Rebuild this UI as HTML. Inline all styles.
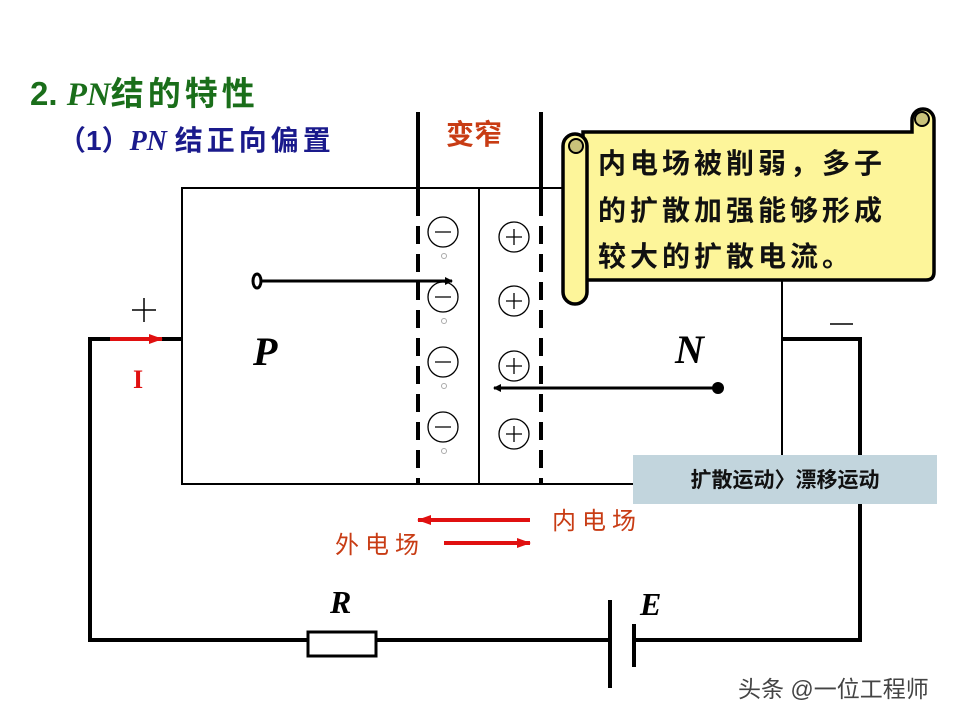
<!DOCTYPE html>
<html><head><meta charset="utf-8"><style>
body{margin:0;background:#fff;width:960px;height:720px;overflow:hidden}
.s{font-family:"Liberation Sans","Noto Sans CJK SC",sans-serif}
.f{font-family:"Liberation Serif",serif;font-style:italic;font-weight:bold}
</style></head><body>
<svg width="960" height="720" viewBox="0 0 960 720" xmlns="http://www.w3.org/2000/svg">
<defs>
<marker id="ab" markerWidth="8" markerHeight="8" refX="7" refY="4" orient="auto" markerUnits="userSpaceOnUse"><path d="M0,0 L8,4 L0,8 Z" fill="#000"/></marker>
<marker id="ar" markerWidth="14" markerHeight="10" refX="13" refY="5" orient="auto" markerUnits="userSpaceOnUse"><path d="M0,0 L14,5 L0,10 Z" fill="#e01010"/></marker>
</defs>
<text class="s" x="30" y="105" font-size="33" font-weight="bold" fill="#1a6e1a">2. <tspan class="f">PN</tspan><tspan letter-spacing="4">结的特性</tspan></text>
<text class="s" x="58" y="150" font-size="28" font-weight="bold" fill="#1a1a8c">（1）<tspan class="f">PN</tspan> <tspan letter-spacing="4">结正向偏置</tspan></text>
<text class="s" x="446" y="144" font-size="28" font-weight="bold" fill="#c83c14">变窄</text>
<rect x="182" y="188" width="600" height="296" fill="none" stroke="#000" stroke-width="2"/>
<line x1="479" y1="188" x2="479" y2="484" stroke="#000" stroke-width="2"/>
<line x1="418" y1="112" x2="418" y2="198" stroke="#000" stroke-width="4"/>
<line x1="418" y1="198" x2="418" y2="484" stroke="#000" stroke-width="4" stroke-dasharray="18,10"/>
<line x1="541" y1="112" x2="541" y2="198" stroke="#000" stroke-width="4"/>
<line x1="541" y1="198" x2="541" y2="484" stroke="#000" stroke-width="4" stroke-dasharray="18,10"/>
<g stroke="#000" stroke-width="1.3" fill="none">
<circle cx="443" cy="232" r="15"/><circle cx="443" cy="297" r="15"/><circle cx="443" cy="362" r="15"/><circle cx="443" cy="427" r="15"/>
<circle cx="514" cy="237" r="15"/><circle cx="514" cy="301" r="15"/><circle cx="514" cy="366" r="15"/><circle cx="514" cy="434" r="15"/>
<path d="M435,232h16M435,297h16M435,362h16M435,427h16"/>
<path d="M506,237h16M514,229v16M506,301h16M514,293v16M506,366h16M514,358v16M506,434h16M514,426v16"/>
</g>
<g fill="none" stroke="#aaa" stroke-width="1"><circle cx="444" cy="256" r="2.5"/><circle cx="444" cy="321" r="2.5"/><circle cx="444" cy="386" r="2.5"/><circle cx="444" cy="451" r="2.5"/></g>
<ellipse cx="257" cy="281" rx="4" ry="7" fill="none" stroke="#000" stroke-width="3"/>
<line x1="261" y1="281" x2="452" y2="281" stroke="#000" stroke-width="3" marker-end="url(#ab)"/>
<circle cx="718" cy="388" r="6" fill="#000"/>
<line x1="718" y1="388" x2="494" y2="388" stroke="#000" stroke-width="3" marker-end="url(#ab)"/>
<text class="f" x="253" y="365" font-size="40">P</text>
<text class="f" x="675" y="363" font-size="40">N</text>
<path d="M182,339 H90 V640 H308 M376,640 H610 M634,640 H860 V339 H782" fill="none" stroke="#000" stroke-width="4"/>
<rect x="308" y="632" width="68" height="24" fill="#fff" stroke="#000" stroke-width="3"/>
<line x1="610" y1="600" x2="610" y2="688" stroke="#000" stroke-width="4"/>
<line x1="634" y1="624" x2="634" y2="667" stroke="#000" stroke-width="4"/>
<path d="M132,310 h24 M144,298 v24" stroke="#000" stroke-width="1.5"/>
<line x1="830" y1="324" x2="853" y2="324" stroke="#000" stroke-width="1.5"/>
<line x1="110" y1="339" x2="162" y2="339" stroke="#e01010" stroke-width="4" marker-end="url(#ar)"/>
<text x="133" y="388" style="font-family:'Liberation Serif',serif;font-weight:bold" font-size="26" fill="#e01010">I</text>
<text class="f" x="330" y="613" font-size="32">R</text>
<text class="f" x="640" y="615" font-size="32">E</text>
<line x1="530" y1="520" x2="418" y2="520" stroke="#e01010" stroke-width="4" marker-end="url(#ar)"/>
<line x1="444" y1="543" x2="530" y2="543" stroke="#e01010" stroke-width="4" marker-end="url(#ar)"/>
<text class="s" x="552" y="529" font-size="24" fill="#c83c14" letter-spacing="6">内电场</text>
<text class="s" x="335" y="553" font-size="24" fill="#c83c14" letter-spacing="6">外电场</text>
<path d="M583,132 H912 V120 A11,11 0 0 1 934,120 V272 Q934,280 926,280 H583 Z" fill="#fdf59a" stroke="#000" stroke-width="3.5"/>
<circle cx="922" cy="119" r="7" fill="#c9c27a" stroke="#000" stroke-width="2"/>
<rect x="563" y="134" width="24" height="170" rx="12" fill="#fdf59a" stroke="#000" stroke-width="3.5"/>
<circle cx="576" cy="146" r="7" fill="#c9c27a" stroke="#000" stroke-width="2"/>
<g class="s" font-size="28" font-weight="bold" fill="#111" letter-spacing="4">
<text x="598" y="173">内电场被削弱，多子</text>
<text x="598" y="220">的扩散加强能够形成</text>
<text x="598" y="266">较大的扩散电流。</text>
</g>
<rect x="633" y="455" width="304" height="49" fill="#c2d5dd"/>
<text class="s" x="785" y="487" font-size="21" font-weight="bold" text-anchor="middle" fill="#111">扩散运动〉漂移运动</text>
<text class="s" x="738" y="697" font-size="23" fill="#444">头条 @一位工程师</text>
</svg>
</body></html>
